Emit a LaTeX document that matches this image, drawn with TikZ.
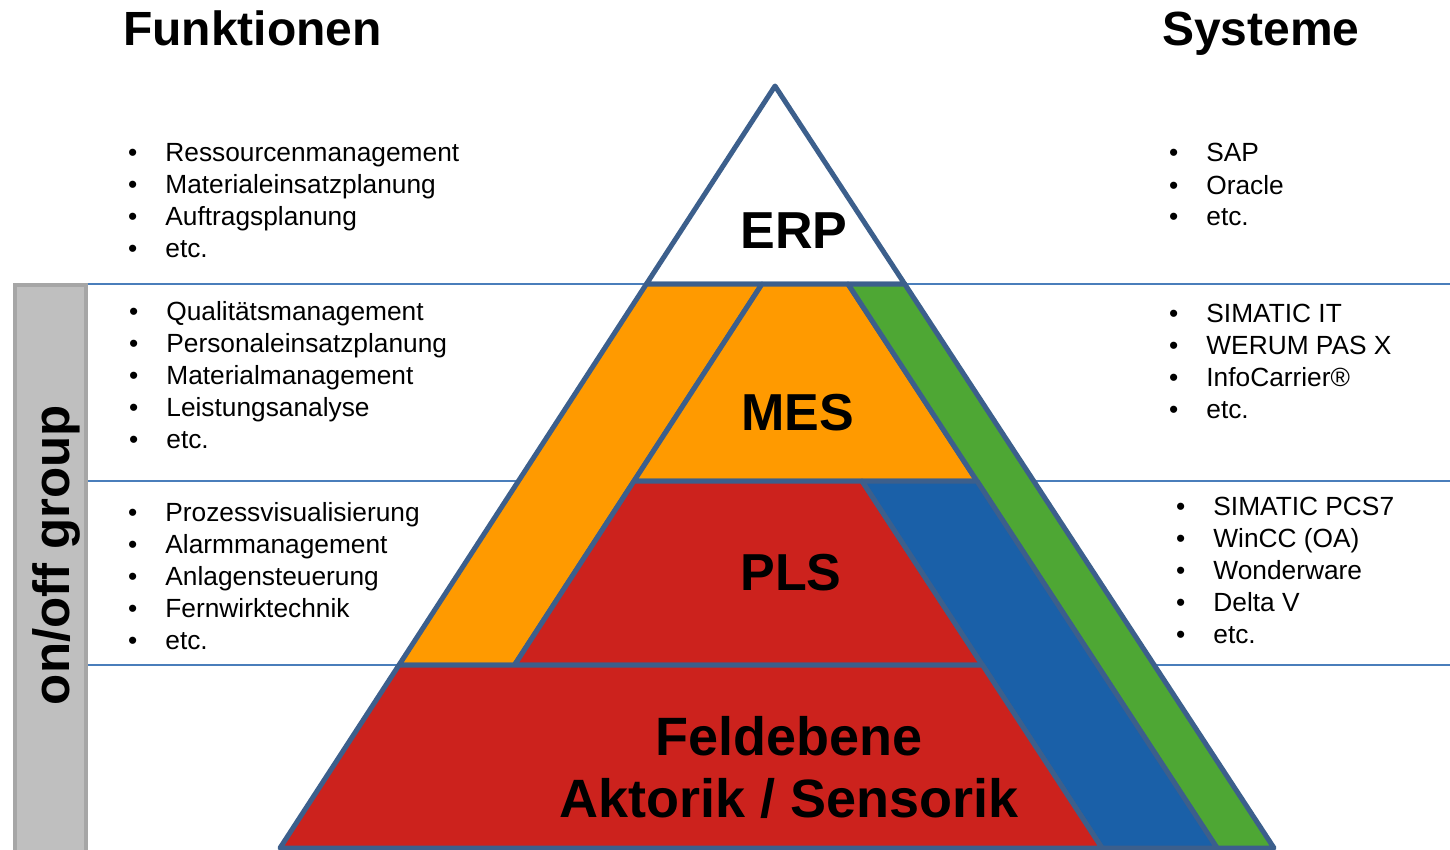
\documentclass[tikz,border=0pt]{standalone}
\usepackage{fontspec}
\setmainfont{Liberation Sans}
\usetikzlibrary{positioning}

\definecolor{pyrline}{RGB}{60,95,140}
\definecolor{sepline}{RGB}{74,126,187}
\definecolor{mesorange}{RGB}{255,154,0}
\definecolor{itgreen}{RGB}{78,167,52}
\definecolor{plsred}{RGB}{204,34,29}
\definecolor{dcsblue}{RGB}{26,96,168}
\definecolor{boxgray}{RGB}{191,191,191}
\definecolor{boxline}{RGB}{166,166,166}

\begin{document}
\begin{tikzpicture}[x=1pt, y=-1pt,
    band/.style={draw=pyrline, line width=5pt, line join=round},
    head/.style={font=\fontsize{48}{56}\selectfont\bfseries, anchor=base west, inner sep=0pt},
    lvl/.style={font=\fontsize{52}{62}\selectfont\bfseries, anchor=base, inner sep=0pt, align=center},
    fct/.style={font=\fontsize{26.3}{32}\selectfont, align=left, anchor=base west, inner sep=0pt}]
    \clip (0,0) rectangle (1450,850);

    % Headings
    \node[head] (funk) at (123,46) {Funktionen};
    \node[head] (sys) at (1162,46) {Systeme};

    % Group bar on the left
    \draw[line width=4pt, draw=boxline, fill=boxgray] (15,285) rectangle (86,870);
    \node[font=\fontsize{51}{60}\selectfont\bfseries, rotate=90, anchor=base, inner sep=0pt] (grp) at (69,555) {on/off group};

    % Level separators
    \draw[line width=2pt, sepline] (88,284) -- (1450,284);
    \draw[line width=2pt, sepline] (88,481) -- (1450,481);
    \draw[line width=2pt, sepline] (88,665) -- (1450,665);

    % ERP tip
    \draw[band, fill=white] (775,86) -- (904.7,284) -- (646.4,284) -- cycle;
    \node[lvl] (erp) at (794,248) {ERP};

    % Orange side band
    \draw[band, fill=mesorange] (646.4,284) -- (762,284) -- (514.5,665) -- (399,665) -- cycle;

    % MES layer
    \draw[band, fill=mesorange] (762,284) -- (848,284) -- (977,481) -- (634,481) -- cycle;
    \node[lvl] (mes) at (798,430) {MES};

    % Green side band
    \draw[band, fill=itgreen] (848,284) -- (904.7,284) -- (1274,848) -- (1217,848) -- cycle;

    % PLS layer
    \draw[band, fill=plsred] (634,481) -- (862,481) -- (982.5,665) -- (514.5,665) -- cycle;
    \node[lvl] (pls) at (791,590) {PLS};

    % Blue side band
    \draw[band, fill=dcsblue] (862,481) -- (977,481) -- (1217,848) -- (1102,848) -- cycle;

    % Field level
    \draw[band, fill=plsred] (399,665) -- (982.5,665) -- (1102,848) -- (280,848) -- cycle;
    \node[lvl, font=\fontsize{54}{62}\selectfont\bfseries] (feld) at (789,817) {Feldebene\\Aktorik / Sensorik};

    % Functions (left), base = last line
    \node[fct] (fkterp) at (128,258) {•\hspace{28pt}Ressourcenmanagement\\•\hspace{28pt}Materialeinsatzplanung\\•\hspace{28pt}Auftragsplanung\\•\hspace{28pt}etc.};
    \node[fct] (fktmes) at (129,448) {•\hspace{28pt}Qualitätsmanagement\\•\hspace{28pt}Personaleinsatzplanung\\•\hspace{28pt}Materialmanagement\\•\hspace{28pt}Leistungsanalyse\\•\hspace{28pt}etc.};
    \node[fct] (fktpls) at (128,649) {•\hspace{28pt}Prozessvisualisierung\\•\hspace{28pt}Alarmmanagement\\•\hspace{28pt}Anlagensteuerung\\•\hspace{28pt}Fernwirktechnik\\•\hspace{28pt}etc.};

    % Systems (right)
    \node[fct] (syserp) at (1169,226) {•\hspace{28pt}SAP\\•\hspace{28pt}Oracle\\•\hspace{28pt}etc.};
    \node[fct] (sysmes) at (1169,418) {•\hspace{28pt}SIMATIC IT\\•\hspace{28pt}WERUM PAS X\\•\hspace{28pt}InfoCarrier®\\•\hspace{28pt}etc.};
    \node[fct] (syspls) at (1176,643) {•\hspace{28pt}SIMATIC PCS7\\•\hspace{28pt}WinCC (OA)\\•\hspace{28pt}Wonderware\\•\hspace{28pt}Delta V\\•\hspace{28pt}etc.};
\end{tikzpicture}
\end{document}
